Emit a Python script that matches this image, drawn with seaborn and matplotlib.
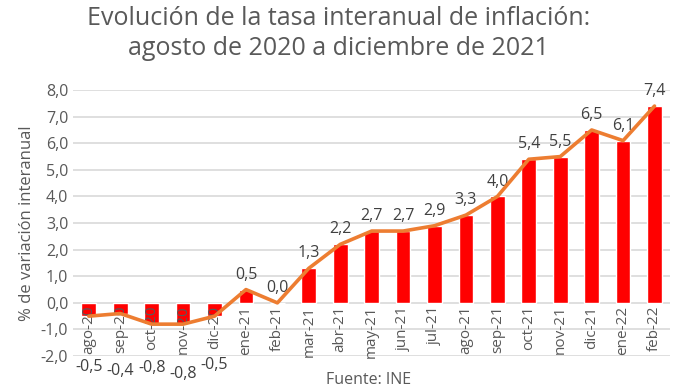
import numpy as np
import pandas as pd
import matplotlib
matplotlib.use("Agg")
import matplotlib.pyplot as plt
import seaborn as sns

# ── Data ─────────────────────────────────────────────────────────────
meses = ["ago-20", "sep-20", "oct-20", "nov-20", "dic-20", "ene-21", "feb-21",
         "mar-21", "abr-21", "may-21", "jun-21", "jul-21", "ago-21", "sep-21",
         "oct-21", "nov-21", "dic-21", "ene-22", "feb-22"]
inflacion = [-0.5, -0.4, -0.8, -0.8, -0.5, 0.5, 0.0, 1.3, 2.2, 2.7, 2.7, 2.9,
             3.3, 4.0, 5.4, 5.5, 6.5, 6.1, 7.4]
# vertical spot of the labels for negative values (below the axis, Excel style)
etiqueta_neg_y = [-2.42, -2.55, -2.46, -2.68, -2.35]

df = pd.DataFrame({"mes": meses, "valor": inflacion})

sns.set_style("white")
plt.rcParams["font.family"] = ["Open Sans", "DejaVu Sans"]
gris = "#595959"

fig = plt.figure(figsize=(6.77, 3.9), dpi=100)
ax = fig.add_axes([0.108, 0.087, 0.882, 0.682])

sns.barplot(data=df, x="mes", y="valor", color="#FF0000", saturation=1,
            width=0.47, ax=ax, zorder=2)
ax.plot(np.arange(len(meses)), inflacion, color="#ED7D31", lw=2.6,
        solid_capstyle="round", zorder=5)

# ── Labels ───────────────────────────────────────────────────────────
i_neg = 0
for i, v in enumerate(inflacion):
    txt = f"{v:.1f}".replace(".", ",")
    if v < 0:
        ax.text(i, etiqueta_neg_y[i_neg], txt, ha="center", va="center",
                fontsize=11.5, color="#404040", clip_on=False)
        i_neg += 1
    else:
        ax.annotate(txt, (i, v), xytext=(0, 5), textcoords="offset points",
                    ha="center", va="bottom", fontsize=11.5, color="#404040",
                    annotation_clip=False)

ax.set_ylim(-2, 8)
ax.set_yticks(np.arange(-2, 9, 1))
ax.set_yticklabels([f"{t:.1f}".replace(".", ",") for t in np.arange(-2, 9, 1)],
                   fontsize=11.5, color=gris)
ax.set_xlim(-0.5, len(meses) - 0.5)
ax.yaxis.grid(True, color="#D9D9D9", lw=1.2, zorder=0)
ax.set_axisbelow(True)
ax.xaxis.set_zorder(4)  # month labels sit on top of the negative bars
for s in ax.spines.values():
    s.set_visible(False)
ax.spines["bottom"].set_position(("data", 0))
ax.tick_params(axis="both", length=0)
ax.tick_params(axis="x", pad=2)
plt.setp(ax.get_xticklabels(), rotation=90, fontsize=11, color=gris,
         va="top", ha="center")
ax.set_xlabel("")
ax.set_ylabel("% de variación interanual", fontsize=12, color=gris,
              labelpad=4)

fig.text(0.5, 0.985, "Evolución de la tasa interanual de inflación:\n"
         "agosto de 2020 a diciembre de 2021", ha="center", va="top",
         fontsize=18, color=gris, linespacing=1.25)
fig.text(0.545, 0.025, "Fuente: INE", ha="center", va="center",
         fontsize=11.5, color=gris)

plt.savefig("out.png", dpi=100)
